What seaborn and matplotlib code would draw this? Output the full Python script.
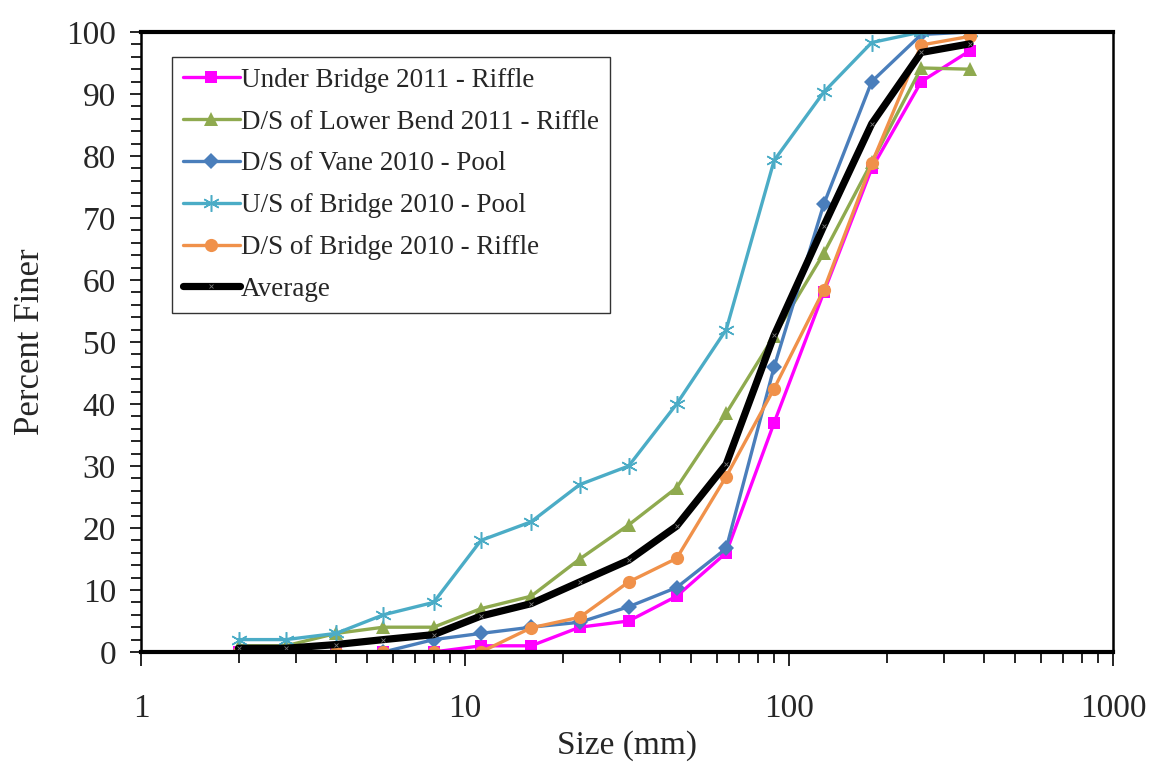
import matplotlib
matplotlib.use("Agg")
import matplotlib.pyplot as plt
from matplotlib.ticker import FixedLocator, MultipleLocator, NullFormatter, FixedFormatter
import seaborn as sns
import pandas as pd

# Sieve sizes (mm)
sizes = [2, 2.8, 4, 5.6, 8, 11.2, 16, 22.6, 32, 45, 64, 90, 128, 180, 256, 362]

# Percent finer for each sample
under_bridge_2011 = [0, 0, 0, 0, 0, 1, 1, 4, 5, 9, 16, 37, 58, 78, 92, 97]
lower_bend_2011 = [1, 1, 3, 4, 4, 7, 9, 15, 20.5, 26.5, 38.5, 51, 64.3, 79, 94.2, 94]
vane_2010 = [0, 0, 0, 0, 2, 3, 4, 4.8, 7.3, 10.4, 16.7, 46, 72.2, 92, 99.6, 100]
us_bridge_2010 = [2, 2, 3, 6, 8, 18, 21, 27, 30, 40, 52, 79.3, 90.3, 98.3, 100, 100]
ds_bridge_2010 = [0, 0, 0, 0, 0, 0, 3.9, 5.6, 11.3, 15.1, 28.3, 42.5, 58.4, 78.8, 97.9, 99.3]
average = [0.6, 0.6, 1.2, 2.0, 2.8, 5.8, 7.8, 11.3, 14.8, 20.3, 30.3, 51.1, 68.7, 85.2, 96.7, 98.1]

labels = [
    "Under Bridge 2011 - Riffle",
    "D/S of Lower Bend 2011 - Riffle",
    "D/S of Vane 2010 - Pool",
    "U/S of Bridge 2010 - Pool",
    "D/S of Bridge 2010 - Riffle",
    "Average",
]
x_tick_labels = ["1", "10", "100", "1000"]
y_tick_labels = [str(v) for v in range(0, 101, 10)]

series = [under_bridge_2011, lower_bend_2011, vane_2010, us_bridge_2010, ds_bridge_2010, average]

styles = [
    dict(color="#FF00FF", marker="s", markersize=9, markeredgewidth=0),
    dict(color="#8FAA4F", marker="^", markersize=10, markeredgewidth=0),
    dict(color="#4A7EBB", marker="D", markersize=8.5, markeredgewidth=0),
    dict(color="#4BACC6", marker=(6, 2, 0), markersize=12, markeredgewidth=1.1),
    dict(color="#F0914A", marker="o", markersize=9.5, markeredgewidth=0),
    dict(color="black", marker="x", markersize=3, markeredgewidth=0.6),
]
line_widths = [2.4, 2.4, 2.4, 2.4, 2.4, 5.2]
edge_colors = ["#FF00FF", "#8FAA4F", "#4A7EBB", "#4BACC6", "#F0914A", "#777777"]

sns.set_style("white")
plt.rcParams["font.family"] = ["Liberation Serif", "DejaVu Serif"]

fig = plt.figure(figsize=(11.54, 7.63), dpi=100)
ax = fig.add_axes([141 / 1154, 1 - 652 / 763, (1113 - 141) / 1154, (652 - 32) / 763])

for lab, vals, st, lw, ec in zip(labels, series, styles, line_widths, edge_colors):
    df = pd.DataFrame({"Size": sizes, "Percent": vals})
    sns.lineplot(data=df, x="Size", y="Percent", ax=ax, estimator=None, sort=False,
                 label=lab, linewidth=lw, markeredgecolor=ec, **st)

ax.set_xscale("log")
ax.set_xlim(1, 1000)
ax.set_ylim(0, 100)

ax.xaxis.set_major_locator(FixedLocator([1, 10, 100, 1000]))
ax.xaxis.set_major_formatter(FixedFormatter(x_tick_labels))
ax.xaxis.set_minor_locator(FixedLocator([m * d for d in (1, 10, 100) for m in range(2, 10)]))
ax.xaxis.set_minor_formatter(NullFormatter())
ax.set_yticks(range(0, 101, 10))
ax.set_yticklabels(y_tick_labels)
ax.yaxis.set_minor_locator(MultipleLocator(2))

ax.tick_params(axis="both", which="both", direction="out", color="black",
               bottom=True, left=True, top=False, right=False)
ax.tick_params(axis="x", which="major", length=10, width=1.2, labelsize=24, pad=20)
ax.tick_params(axis="x", which="minor", length=8, width=1.2)
ax.tick_params(axis="y", which="major", length=8, width=1.2, labelsize=24, pad=10)
ax.tick_params(axis="y", which="minor", length=7, width=1.2)

for side, lw in (("top", 3.0), ("bottom", 3.0), ("left", 1.8), ("right", 1.8)):
    ax.spines[side].set_visible(True)
    ax.spines[side].set_color("black")
    ax.spines[side].set_linewidth(lw)

ax.set_xlabel("Size (mm)", fontsize=24, labelpad=4)
ax.set_ylabel("Percent Finer", fontsize=25, labelpad=14)

leg = ax.legend(loc="upper left", bbox_to_anchor=((172 - 141) / 972, 1 - (57 - 32) / 620),
                frameon=True, fancybox=False, fontsize=19.5, handlelength=2.1,
                handletextpad=0.05, labelspacing=0.62, borderpad=0.4, borderaxespad=0)
leg.get_frame().set_edgecolor("black")
leg.get_frame().set_linewidth(1.0)

fig.savefig("out.png", dpi=100)
